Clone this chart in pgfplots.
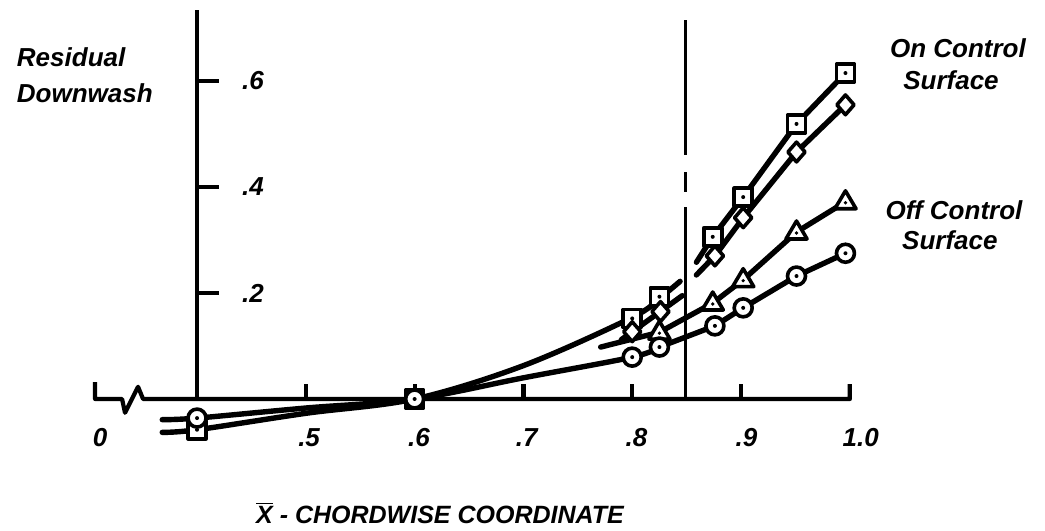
\documentclass[border=0pt]{standalone}
\usepackage{fontspec}
\setmainfont{Liberation Sans}
\usepackage{pgfplots}
\pgfplotsset{compat=1.18}

\pgfdeclareplotmark{sqdot}{%
  \pgfpathrectangle{\pgfqpoint{-\pgfplotmarksize}{-\pgfplotmarksize}}{\pgfqpoint{2\pgfplotmarksize}{2\pgfplotmarksize}}%
  \pgfusepathqfillstroke
  \begin{pgfscope}\pgfsetfillcolor{black}\pgfpathcircle{\pgfpointorigin}{1pt}\pgfusepathqfill\end{pgfscope}}
\pgfdeclareplotmark{cdot}{%
  \pgfpathcircle{\pgfpointorigin}{\pgfplotmarksize}%
  \pgfusepathqfillstroke
  \begin{pgfscope}\pgfsetfillcolor{black}\pgfpathcircle{\pgfpointorigin}{1pt}\pgfusepathqfill\end{pgfscope}}
\pgfdeclareplotmark{tdot}{%
  \pgfpathmoveto{\pgfqpoint{0pt}{1.2\pgfplotmarksize}}%
  \pgfpathlineto{\pgfqpoint{-1.15\pgfplotmarksize}{-0.75\pgfplotmarksize}}%
  \pgfpathlineto{\pgfqpoint{1.15\pgfplotmarksize}{-0.75\pgfplotmarksize}}%
  \pgfpathclose
  \pgfusepathqfillstroke
  \begin{pgfscope}\pgfsetfillcolor{black}\pgfpathcircle{\pgfqpoint{0pt}{-0.1\pgfplotmarksize}}{0.9pt}\pgfusepathqfill\end{pgfscope}}
\pgfdeclareplotmark{ddot}{%
  \pgfpathmoveto{\pgfqpoint{0pt}{1.15\pgfplotmarksize}}%
  \pgfpathlineto{\pgfqpoint{1.0\pgfplotmarksize}{0pt}}%
  \pgfpathlineto{\pgfqpoint{0pt}{-1.15\pgfplotmarksize}}%
  \pgfpathlineto{\pgfqpoint{-1.0\pgfplotmarksize}{0pt}}%
  \pgfpathclose
  \pgfusepathqfillstroke}

\begin{document}
\begin{tikzpicture}
\begin{axis}[
  scale only axis, width=522.5pt, height=264.5pt,
  xmin=0.21890, xmax=1.17941, ymin=-0.24528, ymax=0.75283,
  hide axis, clip=false,
  cycle list={{black, solid, mark=none}},
  every axis plot/.append style={black, solid, line width=2.7pt, line cap=round, line join=round},
]
\path (axis cs:0.21890,-0.24528) rectangle (axis cs:1.17941,0.75283);
% axes
\draw[line width=2.1pt, line join=round] (axis cs:0.3063,0.032) -- (axis cs:0.3063,0) -- (axis cs:0.3311,0) -- (axis cs:0.3338,-0.026) -- (axis cs:0.3458,0.023) -- (axis cs:0.3504,0) -- (axis cs:1.0,0) -- (axis cs:1.0,0.028);
\draw[line width=2.1pt] (axis cs:0.4,0) -- (axis cs:0.4,0.734);
\draw[line width=2.1pt] (axis cs:0.4,0.2) -- (axis cs:0.42,0.2);
\draw[line width=2.1pt] (axis cs:0.4,0.4) -- (axis cs:0.42,0.4);
\draw[line width=2.1pt] (axis cs:0.4,0.6) -- (axis cs:0.42,0.6);
\draw[line width=2.1pt] (axis cs:0.5,0) -- (axis cs:0.5,0.028);
\draw[line width=2.1pt] (axis cs:0.6,0) -- (axis cs:0.6,0.028);
\draw[line width=2.1pt] (axis cs:0.7,0) -- (axis cs:0.7,0.028);
\draw[line width=2.1pt] (axis cs:0.8,0) -- (axis cs:0.8,0.028);
\draw[line width=2.1pt] (axis cs:0.9,0) -- (axis cs:0.9,0.028);
% dashed vertical line
\draw[line width=1.9pt] (axis cs:0.849,0.715) -- (axis cs:0.849,0.460);
\draw[line width=1.9pt] (axis cs:0.849,0.428) -- (axis cs:0.849,0.391);
\draw[line width=1.9pt] (axis cs:0.849,0.362) -- (axis cs:0.849,0);
% tick labels
\begin{scope}[font=\fontsize{13}{15}\selectfont\bfseries\itshape]
\node at (axis cs:0.4515,0.6) {.6};
\node at (axis cs:0.4515,0.4) {.4};
\node at (axis cs:0.4515,0.2) {.2};
\node at (axis cs:0.311,-0.0736) {0};
\node at (axis cs:0.503,-0.0736) {.5};
\node at (axis cs:0.604,-0.0736) {.6};
\node at (axis cs:0.703,-0.0736) {.7};
\node at (axis cs:0.804,-0.0736) {.8};
\node at (axis cs:0.905,-0.0736) {.9};
\node at (axis cs:1.01,-0.0736) {1.0};
\node[anchor=west] at (axis cs:0.228,0.645) {Residual};
\node[anchor=west] at (axis cs:0.228,0.577) {Downwash};
\node at (axis cs:1.0994,0.662) {On Control};
\node at (axis cs:1.093,0.602) {Surface};
\node at (axis cs:1.0958,0.357) {Off Control};
\node at (axis cs:1.092,0.300) {Surface};
\end{scope}
\node[font=\fontsize{12.5}{14}\selectfont\bfseries\itshape] at (axis cs:0.6233,-0.215) {$\overline{\hbox{X}}$ - CHORDWISE COORDINATE};

% curves
\addplot[black, smooth, tension=0.55] coordinates {(0.368,-0.063) (0.4,-0.058) (0.5,-0.027) (0.6,0.0) (0.7,0.063) (0.8,0.154) (0.825,0.19) (0.844,0.222)};
\addplot[black, smooth, tension=0.55] coordinates {(0.368,-0.039) (0.4,-0.036) (0.5,-0.017) (0.6,0.0) (0.7,0.04) (0.8,0.079) (0.825,0.098)};
\addplot[black] coordinates {(0.825,0.098) (0.876,0.138) (0.902,0.172) (0.951,0.232) (0.996,0.275)};
\addplot[black] coordinates {(0.859,0.258) (0.874,0.306) (0.902,0.381) (0.951,0.519) (0.996,0.615)};
\addplot[black] coordinates {(0.859,0.234) (0.876,0.27) (0.902,0.342) (0.951,0.466) (0.996,0.555)};
\addplot[black] coordinates {(0.79,0.112) (0.846,0.195)};
\addplot[black] coordinates {(0.771,0.098) (0.825,0.126) (0.874,0.181) (0.902,0.225) (0.951,0.315) (0.996,0.372)};

% markers
\addplot[only marks, mark=sqdot, mark size=4.5pt, mark options={fill=white, line width=1.8pt, rounded corners=1pt}] coordinates {(0.4,-0.058) (0.6,0.0) (0.8,0.152) (0.825,0.193) (0.874,0.306) (0.902,0.381) (0.951,0.519) (0.996,0.615)};
\addplot[only marks, mark=ddot, mark size=4.3pt, mark options={fill=white, line width=1.8pt}] coordinates {(0.8,0.127) (0.826,0.165) (0.876,0.27) (0.902,0.342) (0.951,0.466) (0.996,0.555)};
\addplot[only marks, mark=tdot, mark size=4.6pt, mark options={fill=white, line width=1.8pt}] coordinates {(0.825,0.126) (0.874,0.181) (0.902,0.225) (0.951,0.315) (0.996,0.372)};
\addplot[only marks, mark=cdot, mark size=4.5pt, mark options={fill=white, line width=1.8pt}] coordinates {(0.4,-0.036) (0.6,0.0) (0.8,0.079) (0.825,0.098) (0.876,0.138) (0.902,0.172) (0.951,0.232) (0.996,0.275)};
\end{axis}
\end{tikzpicture}
\end{document}
